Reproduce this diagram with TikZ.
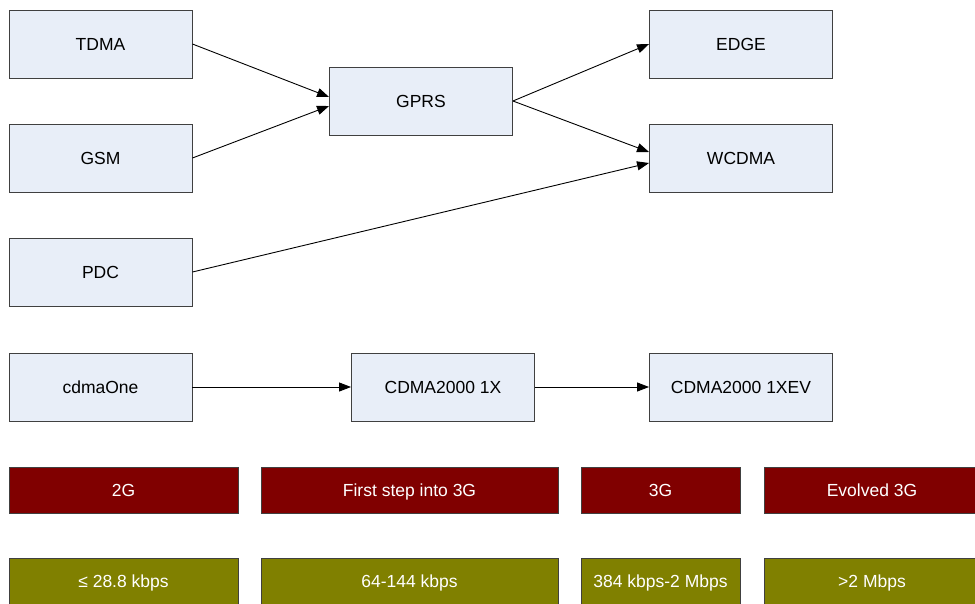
\documentclass[tikz,border=0pt]{standalone}
\usepackage{fontspec}
\setmainfont{Liberation Sans}
\usetikzlibrary{arrows.meta}
\definecolor{boxfill}{HTML}{E8EEF8}
\definecolor{boxline}{HTML}{404040}
\definecolor{genred}{HTML}{800000}
\definecolor{rateolive}{HTML}{808000}
\tikzset{
  tech/.style={draw=boxline, fill=boxfill, line width=0.9pt, minimum width=183pt,
    minimum height=68pt, inner sep=0pt, font=\fontsize{17.5}{20}\selectfont},
  band/.style={draw=boxline, line width=0.6pt, inner sep=0pt, text=white,
    minimum height=46pt, text height=12.5pt, text depth=0pt,
    font=\fontsize{17.5}{20}\selectfont},
  link/.style={line width=0.9pt, -{Triangle[length=12pt,width=9pt]}}
}
\begin{document}
\begin{tikzpicture}[x=1pt, y=-1pt]
\useasboundingbox (0,0) rectangle (975,603);
% technology boxes
\node[tech] (tdma)  at (100.5,44)  {TDMA};
\node[tech] (gsm)   at (100.5,158) {GSM};
\node[tech] (pdc)   at (100.5,272) {PDC};
\node[tech] (cdma1) at (100.5,387) {cdmaOne};
\node[tech] (gprs)  at (421,101)   {GPRS};
\node[tech] (edge)  at (741,44)    {EDGE};
\node[tech] (wcdma) at (741,158)   {WCDMA};
\node[tech] (cdx)   at (443,387)   {CDMA2000 1X};
\node[tech] (cdxev) at (741,387)   {CDMA2000 1XEV};
% evolution paths
\draw[link] (tdma.east) -- ([yshift=4pt]gprs.west);
\draw[link] (gsm.east) -- ([yshift=-5pt]gprs.west);
\draw[link] (gprs.east) -- (edge.west);
\draw[link] (gprs.east) -- ([yshift=6pt]wcdma.west);
\draw[link] (pdc.east) -- ([yshift=-5pt]wcdma.west);
\draw[link] (cdma1.east) -- (cdx.west);
\draw[link] (cdx.east) -- (cdxev.west);
% generation bands
\node[band, fill=genred, minimum width=229pt] (g2)  at (123.5,490) {2G};
\node[band, fill=genred, minimum width=297pt] (g25) at (409.5,490) {First step into 3G};
\node[band, fill=genred, minimum width=159pt] (g3)  at (660.5,490) {3G};
\node[band, fill=genred, minimum width=216pt] (g3e) at (872,490)   {Evolved 3G};
% data rate bands
\node[band, fill=rateolive, minimum width=229pt] (r2)  at (123.5,581) {≤ 28.8 kbps};
\node[band, fill=rateolive, minimum width=297pt] (r25) at (409.5,581) {64-144 kbps};
\node[band, fill=rateolive, minimum width=159pt] (r3)  at (660.5,581) {384 kbps-2 Mbps};
\node[band, fill=rateolive, minimum width=216pt] (r3e) at (872,581)   {>2 Mbps};
\end{tikzpicture}
\end{document}
